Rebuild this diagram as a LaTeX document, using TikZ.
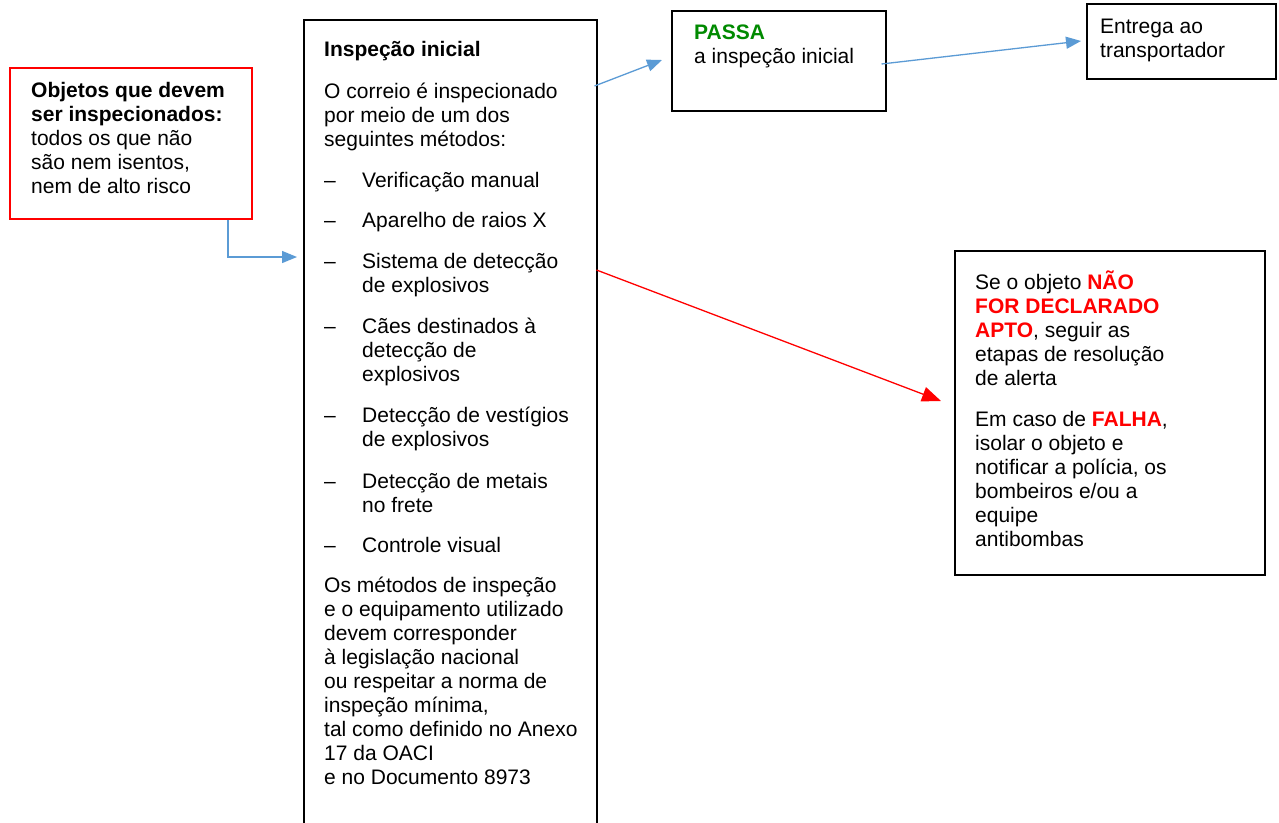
\documentclass[tikz,border=0pt]{standalone}
\usepackage{fontspec}
\setmainfont{Liberation Sans}
\usetikzlibrary{arrows.meta,calc}
\definecolor{ablue}{RGB}{91,155,213}
\definecolor{pgreen}{RGB}{0,138,0}
\definecolor{pred}{RGB}{255,0,0}
\newcommand{\dtxt}[2]{\parbox[t]{#1}{\raggedright #2}}
\newcommand{\itemline}[1]{\makebox[38pt][l]{–}\parbox[t]{230pt}{\raggedright #1}}
\tikzset{
  boxnode/.style={draw=black, line width=1.5pt, anchor=north west, inner sep=0pt, fill=white},
  redboxnode/.style={draw=pred, line width=2pt, anchor=north west, inner sep=0pt, fill=white},
  txt/.style={anchor=base west, inner sep=0pt, font=\fontsize{21}{24}\selectfont},
  bluearrow/.style={draw=ablue, line width=1.3pt, -{Triangle[length=15pt,width=12pt]}},
  redarrow/.style={draw=pred, line width=1.3pt, -{Triangle[length=19pt,width=15pt]}},
}
\begin{document}
\begin{tikzpicture}[x=1pt,y=-1pt]
\clip (0,0) rectangle (1279,822);
\fill[white] (0,0) rectangle (1279,822);

% boxes
\node[redboxnode, minimum width=242pt, minimum height=151pt] (objs) at (9,67) {};
\node[boxnode, minimum width=293pt, minimum height=830pt] (main) at (303,19) {};
\node[boxnode, minimum width=214pt, minimum height=100pt] (passa) at (671,10) {};
\node[boxnode, minimum width=189pt, minimum height=75pt] (entrega) at (1086,3) {};
\node[boxnode, minimum width=310pt, minimum height=324pt] (falha) at (954,250) {};

% red box text
\node[txt] (tobjs) at (31,97) {\dtxt{230pt}{\textbf{Objetos que devem}\\\textbf{ser inspecionados:}\\todos os que não\\são nem isentos,\\nem de alto risco}};

% main box text
\node[txt] (tinsp) at (324,56) {\textbf{Inspeção inicial}};
\node[txt] (tcorreio) at (324,98) {\dtxt{270pt}{O correio é inspecionado\\por meio de um dos\\seguintes métodos:}};
\node[txt] (m1) at (324,187) {\itemline{Verificação manual}};
\node[txt] (m2) at (324,227) {\itemline{Aparelho de raios X}};
\node[txt] (m3) at (324,268) {\itemline{Sistema de detecção\\de explosivos}};
\node[txt] (m4) at (324,333) {\itemline{Cães destinados à\\detecção de\\explosivos}};
\node[txt] (m5) at (324,422) {\itemline{Detecção de vestígios\\de explosivos}};
\node[txt] (m6) at (324,488) {\itemline{Detecção de metais\\no frete}};
\node[txt] (m7) at (324,552) {\itemline{Controle visual}};
\node[txt] (tmetodos) at (324,592) {\dtxt{270pt}{Os métodos de inspeção\\e o equipamento utilizado\\devem corresponder\\à legislação nacional\\ou respeitar a norma de\\inspeção mínima,\\tal como definido no Anexo\\17 da OACI\\e no Documento 8973}};

% passa text
\node[txt] (tpassa) at (694,39) {\dtxt{190pt}{\textcolor{pgreen}{\textbf{PASSA}}\\a inspeção inicial}};

% entrega text
\node[txt] (tentrega) at (1100,33) {\dtxt{170pt}{Entrega ao\\transportador}};

% falha text
\node[txt] (tfalha) at (975,289) {\dtxt{285pt}{Se o objeto \textcolor{pred}{\textbf{NÃO}}\\\textcolor{pred}{\textbf{FOR DECLARADO}}\\\textcolor{pred}{\textbf{APTO}}, seguir as\\etapas de resolução\\de alerta}};
\node[txt] (tfalha2) at (975,426) {\dtxt{285pt}{Em caso de \textcolor{pred}{\textbf{FALHA}},\\isolar o objeto e\\notificar a polícia, os\\bombeiros e/ou a\\equipe\\antibombas}};

% connectors
\coordinate (c1s) at ($(objs.south west)+(219,0)$);
\coordinate (c1e) at ($(main.north west)+(-6,238)$);
\draw[bluearrow] (c1s) |- (c1e);

\coordinate (c2s) at ($(main.north east)+(-3,67)$);
\coordinate (c2e) at ($(passa.north west)+(-9,50)$);
\draw[bluearrow] (c2s) -- (c2e);

\coordinate (c3s) at ($(passa.north east)+(-5,54)$);
\coordinate (c3e) at ($(entrega.north west)+(-5,38)$);
\draw[bluearrow] (c3s) -- (c3e);

\coordinate (c4s) at ($(main.north east)+(-1,251)$);
\coordinate (c4e) at ($(falha.north west)+(-13,151)$);
\draw[redarrow] (c4s) -- (c4e);
\end{tikzpicture}
\end{document}
